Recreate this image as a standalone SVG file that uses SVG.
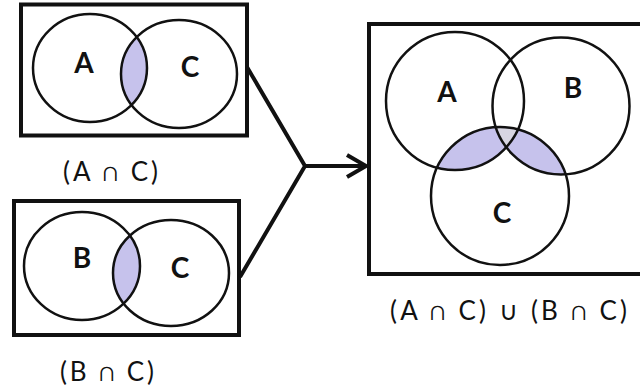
<svg xmlns="http://www.w3.org/2000/svg" width="640" height="392" viewBox="0 0 640 392">
<style>
.box{fill:none;stroke:#111;stroke-width:4}
.circ{fill:none;stroke:#111;stroke-width:2.5}
.shade{fill:#c6c2ec}
.lbl{font-family:Lato,"Open Sans",sans-serif;font-weight:bold;font-size:28px;fill:#111;text-anchor:middle}
.cap{font-family:Lato,"Open Sans",sans-serif;font-size:26px;fill:#111;text-anchor:middle}
.conn{fill:none;stroke:#111;stroke-width:4;stroke-linejoin:miter}
</style>
<defs>
<clipPath id="c1A"><ellipse cx="90" cy="68" rx="57" ry="54"/></clipPath>
<clipPath id="c2B"><ellipse cx="82" cy="266" rx="58" ry="54"/></clipPath>
<clipPath id="c3A"><circle cx="455" cy="101" r="69"/></clipPath>
<clipPath id="c3B"><circle cx="561" cy="106" r="68.5"/></clipPath>
</defs>
<rect width="640" height="392" fill="#fff"/>
<g id="node-ac">
<rect class="box" x="21" y="4.5" width="226" height="131"/>
<ellipse class="shade" cx="179" cy="74" rx="58" ry="54" clip-path="url(#c1A)"/>
<ellipse class="circ" cx="90" cy="68" rx="57" ry="54"/>
<ellipse class="circ" cx="179" cy="74" rx="58" ry="54"/>
<text class="lbl" x="84" y="73">A</text>
<text class="lbl" x="190" y="77">C</text>
<text class="cap" x="110.5" y="181" textLength="95" lengthAdjust="spacing">(A ∩ C)</text>
</g>
<g id="node-bc">
<rect class="box" x="14" y="201" width="225" height="134"/>
<ellipse class="shade" cx="171" cy="273" rx="58" ry="53" clip-path="url(#c2B)"/>
<ellipse class="circ" cx="82" cy="266" rx="58" ry="54"/>
<ellipse class="circ" cx="171" cy="273" rx="58" ry="53"/>
<text class="lbl" x="82" y="268">B</text>
<text class="lbl" x="180" y="278">C</text>
<text class="cap" x="107" y="381" textLength="94" lengthAdjust="spacing">(B ∩ C)</text>
</g>
<g id="node-union">
<rect class="box" x="369" y="24" width="290" height="250"/>
<circle class="shade" cx="500" cy="196" r="69" clip-path="url(#c3A)"/>
<circle class="shade" cx="500" cy="196" r="69" clip-path="url(#c3B)"/>
<g clip-path="url(#c3A)"><circle cx="500" cy="196" r="69" fill="#d8d6e2" clip-path="url(#c3B)"/></g>
<circle class="circ" cx="455" cy="101" r="69"/>
<circle class="circ" cx="561" cy="106" r="68.5"/>
<circle class="circ" cx="500" cy="196" r="69"/>
<text class="lbl" x="447" y="102">A</text>
<text class="lbl" x="573" y="98">B</text>
<text class="lbl" x="502" y="223">C</text>
<text class="cap" x="508.5" y="320" textLength="237" lengthAdjust="spacing">(A ∩ C) ∪ (B ∩ C)</text>
</g>
<g id="connectors">
<polyline class="conn" points="247,67 305,166 240,277"/>
<line class="conn" x1="305" y1="166" x2="366" y2="166"/>
<polyline class="conn" points="347,155 366,166 347,177"/>
</g>
</svg>
